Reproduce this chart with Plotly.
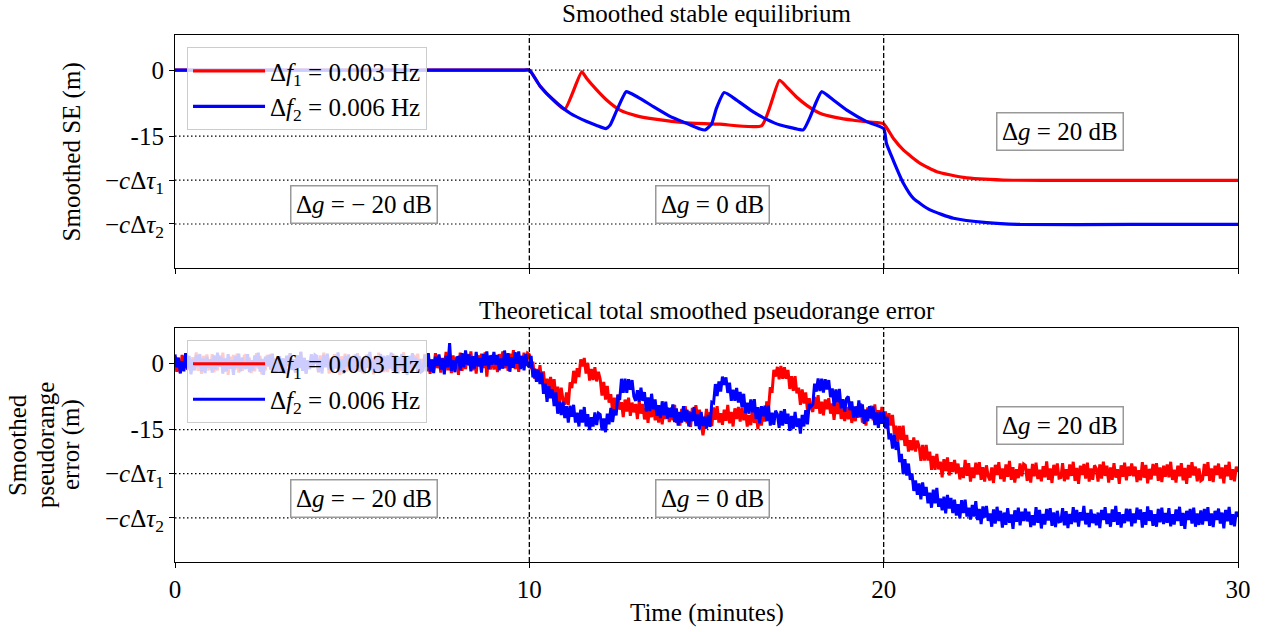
import plotly.graph_objects as go

# ---------------- data ----------------
# top panel: smoothed stable equilibrium (time in minutes, value in m)
TOP_T_RED = [0, 5, 9.8, 10, 10.3, 10.68, 11.0, 11.48, 11.62, 11.9, 12.18, 12.56, 13.03, 13.5,
             14.44, 15.38, 16.56, 17.06, 17.26, 17.54, 17.83, 18.2, 18.67, 19.15, 19.62, 20.0,
             20.27, 20.56, 21.03, 21.5, 22.25, 23.37, 26, 30]
TOP_V_RED = [0, 0, 0, 0, -3.6, -6.8, -8.9, -0.4, -1.9, -4.5, -6.8, -9.1, -10.4, -11.1,
             -12.0, -12.3, -12.6, -2.3, -3.8, -6.1, -8.0, -9.8, -10.8, -11.4, -11.8, -12.2,
             -15.5, -18.2, -21.2, -23.1, -24.4, -25.0, -25.1, -25.1]

TOP_T_BLUE = [0, 5, 9.8, 10, 10.3, 10.68, 11.15, 11.62, 11.9, 12.16, 12.28, 12.47, 12.73, 12.84,
              13.12, 13.5, 13.97, 14.44, 14.82, 14.96, 15.14, 15.28, 15.5, 15.85, 16.32, 16.7,
              17.08, 17.45, 17.73, 17.91, 18.1, 18.25, 18.58, 18.96, 19.52, 20.0, 20.08, 20.27,
              20.56, 20.84, 21.31, 21.97, 22.91, 23.85, 27, 30]
TOP_V_BLUE = [0, 0, 0, 0, -3.6, -6.8, -9.8, -11.7, -12.6, -13.3, -12.5, -9.1, -4.9, -5.2,
              -6.4, -8.3, -10.5, -12.1, -13.4, -13.6, -12.3, -8.7, -5.1, -6.8, -9.5, -11.2,
              -12.5, -13.2, -13.6, -10.9, -7.2, -4.9, -6.8, -9.1, -11.7, -13.3, -16.7, -20.5,
              -25.8, -29.2, -31.8, -33.7, -34.7, -35.1, -35.1, -35.1]

# bottom panel: noisy smoothed pseudorange error, sampled every 0.05 min (one row per minute)
SAMPLE_STEP_MIN = 0.05
BOT_RED = (
    [1.6, -1.9, 0.8, -2.3, 1.9, -0.9, 2.2, -1.5, 0.6, -2.0, 1.4, -1.1, 2.5, -1.7, 0.9, -2.4, 1.7, -0.7, 2.0, -1.3] +
    [-1.2, 2.1, -2.0, 0.7, -1.6, 1.8, -0.8, 2.4, -1.9, 1.0, -2.6, 1.5, -0.6, 1.9, -1.4, 2.2, -2.1, 0.9, -1.7, 1.6] +
    [2.0, -0.9, 1.3, -2.2, 0.5, -1.8, 2.3, -1.2, 1.7, -2.5, 0.8, -1.6, 1.9, -0.7, 2.1, -1.9, 1.1, -2.2, 1.5, -1.0] +
    [-1.8, 1.1, -2.4, 1.7, -0.6, 2.3, -1.5, 0.9, -2.1, 1.8, -1.0, 2.6, -1.7, 1.2, -2.3, 0.7, -1.3, 2.0, -0.9, 1.9] +
    [0.9, -2.1, 1.8, -1.4, 2.4, -0.8, 1.5, -2.3, 1.1, -1.7, 2.1, -1.2, 0.7, -2.6, 1.6, -1.0, 2.2, -1.8, 1.3, -0.8] +
    [-1.6, 1.9, -0.8, 2.3, -1.9, 0.9, -2.2, 1.5, -0.6, 2.0, -1.4, 1.1, -2.5, 1.7, -0.9, 2.4, -1.7, 0.7, -2.0, 1.3] +
    [-2.0, 0.9, -1.3, 2.2, -0.5, 1.8, -2.3, 1.2, -1.7, 2.5, -0.8, 1.6, -1.9, 0.7, -2.1, 1.9, -1.1, 2.2, -1.5, 1.0] +
    [-0.9, 2.1, -1.8, 1.4, -2.4, 0.8, -1.5, 2.3, -1.1, 1.7, -2.1, 1.2, -0.7, 2.6, -1.6, 1.0, -2.2, 1.8, -1.3, 0.8] +
    [-2.6, 2.4, -1.7, 1.0, -1.3, 2.1, -0.5, 2.7, -1.6, 1.3, -2.3, 1.8, -0.3, 2.2, -1.1, 2.5, -3.0, 1.2, -1.4, 1.9] +
    [-1.4, 1.5, -2.0, 2.1, -0.2, 2.7, -1.1, 1.3, -1.7, 2.2, -0.6, 3.0, -1.3, 1.6, -1.9, 1.1, -0.9, 2.4, -0.5, 2.3] +
    [2.0, -1.3, 0.4, -3.5, -1.3, -4.0, -0.4, -4.3, -1.8, -6.4, -3.5, -6.3, -3.1, -6.1, -3.6, -8.0, -5.3, -8.9, -5.5, -8.3] +
    [-9.4, -6.6, -9.4, -4.3, -5.6, -1.7, -4.5, -1.1, -3.1, 0.9, -0.7, 1.2, -2.3, 0.1, -3.9, -1.3, -3.8, -0.9, -4.1, -1.9] +
    [-3.6, -7.3, -4.2, -8.2, -5.1, -8.9, -7.0, -11.0, -7.8, -10.7, -7.1, -10.5, -8.8, -12.2, -8.2, -10.9, -7.8, -11.9, -8.9, -11.1] +
    [-9.2, -12.6, -8.6, -11.4, -9.2, -12.7, -10.2, -13.5, -9.2, -12.2, -8.7, -12.9, -10.8, -13.4, -10.1, -13.8, -9.5, -12.6, -10.0, -13.3] +
    [-10.0, -12.9, -9.4, -13.5, -11.2, -14.1, -10.3, -12.7, -9.7, -13.6, -10.8, -14.4, -10.1, -13.0, -9.5, -12.5, -10.5, -13.8, -16.3, -13.7] +
    [-10.3, -13.8, -11.1, -14.2, -10.0, -12.8, -9.7, -13.4, -11.3, -13.9, -10.5, -13.0, -9.4, -13.6, -11.0, -14.3, -10.2, -12.6, -9.9, -13.2] +
    [-10.0, -12.9, -10.8, -14.3, -11.7, -14.0, -10.0, -13.5, -10.7, -14.9, -11.6, -14.1, -10.6, -13.2, -8.6, -10.4, -5.4, -6.7, -1.5, -3.0] +
    [-0.8, -3.6, -0.6, -3.5, -0.9, -3.5, -1.5, -5.8, -2.9, -6.2, -2.9, -6.8, -5.5, -9.4, -5.9, -9.1, -6.6, -10.8, -7.9, -10.1] +
    [-11.0, -7.6, -10.3, -7.2, -11.4, -8.7, -11.8, -8.2, -10.4, -7.9, -11.4, -9.1, -12.8, -8.8, -11.5, -8.4, -12.6, -10.3, -13.1, -9.9] +
    [-12.7, -9.4, -13.5, -10.8, -13.1, -9.7, -12.3, -9.1, -13.4, -10.5, -14.1, -10.0, -12.1, -9.6, -12.9, -9.3, -13.6, -10.6, -13.2, -9.9] +
    [-13.4, -10.9, -14.9, -11.3, -14.1, -11.7, -16.0, -14.1, -17.6, -14.2, -17.4, -14.1, -18.7, -16.2, -20.0, -17.4, -19.7, -16.8, -20.0, -17.5] +
    [-18.8, -22.1, -18.5, -22.0, -18.5, -22.0, -20.0, -24.1, -21.0, -24.1, -20.5, -24.0, -22.3, -25.8, -21.7, -24.4, -21.3, -25.4, -22.4, -24.6] +
    [-21.9, -24.9, -22.7, -26.3, -23.6, -26.0, -21.9, -25.5, -22.6, -26.8, -23.6, -26.0, -22.5, -25.2, -22.4, -26.4, -23.5, -26.8, -23.1, -25.6] +
    [-26.5, -23.6, -27.1, -23.0, -25.3, -22.4, -26.2, -23.8, -26.8, -22.9, -25.7, -22.1, -26.4, -23.5, -27.0, -24.0, -26.0, -22.7, -25.6, -22.8] +
    [-23.1, -26.6, -23.9, -27.0, -22.8, -25.6, -22.5, -26.2, -24.1, -26.7, -23.3, -25.8, -22.2, -26.4, -23.8, -27.1, -23.0, -25.4, -22.7, -26.0] +
    [-25.9, -22.6, -26.7, -24.0, -26.3, -22.9, -25.5, -22.3, -26.6, -23.7, -27.3, -23.2, -25.3, -22.8, -26.1, -22.5, -26.8, -23.8, -26.4, -23.1] +
    [-23.8, -26.8, -22.9, -26.1, -22.3, -25.5, -23.2, -27.0, -23.6, -26.4, -22.6, -25.9, -24.0, -27.3, -23.1, -25.7, -22.5, -26.5, -23.4, -25.5] +
    [-22.7, -25.6, -23.4, -26.9, -24.2, -26.5, -22.4, -25.9, -23.0, -27.2, -23.9, -26.3, -22.8, -25.4, -22.6, -26.6, -23.6, -26.9, -23.2, -25.7] +
    [-22.9, -25.8, -22.3, -26.4, -24.1, -27.0, -23.2, -25.6, -22.6, -26.5, -23.7, -27.3, -23.0, -25.9, -22.4, -25.4, -23.4, -26.7, -23.8, -26.6] +
    [-26.3, -22.8, -25.5, -22.4, -26.6, -23.8, -26.9, -23.2, -25.3, -22.7, -26.1, -23.6, -27.2, -23.0, -25.6, -22.3, -26.4, -24.0, -26.7, -23.4] +
    [-24.6]
)
BOT_BLUE = (
    [2.0, -0.9, 1.3, -2.2, 0.5, -1.8, 2.3, -1.2, 1.7, -2.5, 0.8, -1.6, 1.9, -0.7, 2.1, -1.9, 1.1, -2.2, 1.5, -1.0] +
    [0.9, -2.1, 1.8, -1.4, 2.4, -0.8, 1.5, -2.3, 1.1, -1.7, 2.1, -1.2, 0.7, -2.6, 1.6, -1.0, 2.2, -1.8, 1.3, -0.8] +
    [-1.2, 2.1, -2.0, 0.7, -1.6, 1.8, -0.8, 2.4, -1.9, 1.0, -2.6, 1.5, -0.6, 1.9, -1.4, 2.2, -2.1, 0.9, -1.7, 1.6] +
    [-1.8, 1.1, -2.4, 1.7, -0.6, 2.3, -1.5, 0.9, -2.1, 1.8, -1.0, 2.6, -1.7, 1.2, -2.3, 0.7, -1.3, 2.0, -0.9, 1.9] +
    [1.6, -1.9, 0.8, -2.3, 1.9, -0.9, 2.2, -1.5, 0.6, -2.0, 1.4, -1.1, 2.5, -1.7, 0.9, -2.4, 1.7, -0.7, 2.0, -1.3] +
    [1.2, -2.1, 2.0, -0.7, 1.6, -1.8, 0.8, -2.4, 1.9, -1.0, 2.6, -1.5, 0.6, -1.9, 1.4, -2.2, 2.1, -0.9, 1.7, -1.6] +
    [1.8, -1.1, 2.4, -1.7, 0.6, -2.3, 1.5, -0.9, 2.1, -1.8, 1.0, -2.6, 1.7, -1.2, 2.3, -0.7, 1.3, -2.0, 0.9, -1.9] +
    [-1.6, 1.9, -0.8, 2.3, -1.9, 0.9, -2.2, 1.5, -0.6, 2.0, -1.4, 1.1, -2.5, 1.7, -0.9, 4.6, -1.7, 0.7, -2.0, 1.3] +
    [1.4, -1.6, 2.3, -0.9, 2.9, -0.3, 2.0, -1.8, 1.6, -1.2, 2.6, -0.7, 1.2, -2.1, 2.1, -0.5, 2.7, -1.3, 1.8, -0.3] +
    [2.6, -0.3, 1.9, -1.6, 1.1, -1.2, 2.9, -0.6, 2.3, -1.9, 1.4, -1.0, 2.5, -0.1, 2.7, -1.3, 1.7, -1.6, 2.1, -0.4] +
    [-0.9, 1.7, -3.2, -1.2, -4.2, -1.5, -4.7, -2.1, -6.9, -4.6, -8.7, -5.2, -7.9, -5.9, -9.7, -6.6, -11.4, -8.7, -11.7, -8.7] +
    [-12.4, -9.7, -13.4, -9.6, -12.1, -9.4, -13.4, -11.2, -14.3, -10.5, -13.4, -9.9, -14.3, -11.5, -15.1, -12.2, -14.3, -11.1, -14.0, -11.3] +
    [-11.6, -15.2, -12.5, -15.6, -11.4, -13.8, -10.1, -13.3, -10.4, -11.8, -7.1, -8.3, -3.5, -6.7, -3.5, -6.7, -3.6, -6.0, -3.8, -7.5] +
    [-8.5, -6.1, -8.7, -5.5, -8.5, -6.5, -10.9, -7.7, -10.8, -6.9, -10.4, -8.2, -11.9, -9.5, -12.4, -8.6, -11.8, -8.7, -12.5, -10.2] +
    [-12.2, -9.3, -13.3, -10.2, -14.1, -11.0, -13.4, -9.7, -13.2, -10.5, -14.3, -11.1, -13.1, -9.9, -14.2, -11.6, -14.9, -11.0, -14.2, -12.1] +
    [-14.8, -11.7, -14.4, -8.8, -9.0, -4.7, -7.4, -4.1, -6.4, -3.0, -4.9, -3.2, -6.7, -4.4, -8.5, -6.0, -8.5, -5.6, -8.9, -6.5] +
    [-9.9, -6.9, -11.3, -8.9, -11.4, -8.2, -11.1, -8.1, -12.6, -9.9, -13.6, -9.7, -12.0, -9.6, -13.1, -9.6, -14.1, -11.2, -13.9, -10.7] +
    [-11.5, -14.6, -10.8, -14.1, -10.4, -13.7, -11.4, -15.3, -11.9, -14.8, -11.0, -14.4, -12.5, -15.9, -11.7, -14.3, -10.6, -13.8, -9.2, -9.8] +
    [-9.3, -4.6, -6.4, -3.4, -6.3, -3.5, -6.6, -3.6, -5.9, -3.8, -7.7, -5.7, -9.7, -5.9, -8.8, -5.8, -10.2, -8.1, -11.0, -8.0] +
    [-7.5, -10.6, -8.6, -12.3, -9.8, -12.3, -8.4, -12.1, -9.3, -13.7, -10.5, -13.1, -9.7, -12.5, -9.8, -14.0, -11.1, -14.6, -11.0, -13.7] +
    [-11.0, -14.7, -12.1, -17.2, -15.9, -19.3, -16.1, -19.6, -17.7, -22.4, -20.5, -25.1, -21.7, -25.4, -22.7, -26.4, -25.0, -28.9, -26.5, -29.8] +
    [-27.2, -30.8, -27.0, -30.0, -28.0, -31.7, -29.3, -32.7, -28.6, -31.7, -28.2, -32.5, -30.6, -33.3, -30.2, -34.0, -29.8, -32.9, -30.5, -33.9] +
    [-30.9, -34.5, -31.9, -35.1, -31.0, -33.9, -30.9, -34.7, -32.7, -35.4, -32.1, -34.7, -31.2, -35.5, -33.0, -36.4, -32.4, -34.9, -32.3, -35.7] +
    [-34.0, -37.0, -33.1, -36.3, -32.5, -35.7, -33.4, -37.2, -33.8, -36.6, -32.8, -36.1, -34.2, -37.5, -33.3, -35.9, -32.7, -36.7, -33.6, -35.7] +
    [-32.9, -35.8, -33.6, -37.1, -34.4, -36.7, -32.6, -36.1, -33.2, -37.4, -34.1, -36.5, -33.0, -35.6, -32.8, -36.8, -33.8, -37.1, -33.4, -35.9] +
    [-35.8, -32.8, -36.7, -33.5, -37.3, -34.1, -36.4, -32.6, -36.0, -33.2, -37.0, -33.7, -35.6, -32.3, -36.5, -33.9, -37.1, -33.1, -36.2, -34.1] +
    [-36.7, -33.8, -37.3, -33.2, -35.5, -32.6, -36.4, -34.0, -37.0, -33.1, -35.9, -32.3, -36.6, -33.7, -37.2, -34.2, -36.2, -32.9, -35.8, -33.0] +
    [-36.9, -34.0, -36.2, -32.7, -35.4, -33.1, -37.2, -33.7, -36.6, -32.4, -35.7, -33.3, -36.8, -34.2, -37.0, -33.0, -36.0, -32.7, -36.4, -33.9] +
    [-36.1, -32.8, -36.9, -34.2, -36.5, -33.1, -35.7, -32.5, -36.8, -33.9, -37.5, -33.4, -35.5, -33.0, -36.3, -32.7, -37.0, -34.0, -36.6, -33.3] +
    [-36.5, -33.0, -35.7, -32.6, -36.8, -34.0, -37.1, -33.4, -35.5, -32.9, -36.3, -33.8, -37.4, -33.2, -35.8, -32.5, -36.6, -34.2, -36.9, -33.6] +
    [-34.8]
)
BOT_T_RED = [round(i * SAMPLE_STEP_MIN, 2) for i in range(len(BOT_RED))]
BOT_T_BLUE = [round(i * SAMPLE_STEP_MIN, 2) for i in range(len(BOT_BLUE))]

SERIES_NAMES = ["Δ<i>f</i><sub>1</sub> = 0.003 Hz", "Δ<i>f</i><sub>2</sub> = 0.006 Hz"]
SERIES_COLORS = ["#ff0000", "#0000ff"]

X_TICKS = [0, 10, 20, 30]
Y_TICKVALS = [0, -15, -25, -35]
Y_TICKTEXT = ["0", "-15", "−<i>c</i>Δ<i>τ</i><sub>1</sub>", "−<i>c</i>Δ<i>τ</i><sub>2</sub>"]
PHASE_BOUNDS = [10, 20]
REGION_LABELS = ["Δ<i>g</i> = − 20 dB", "Δ<i>g</i> = 0 dB", "Δ<i>g</i> = 20 dB"]
REGION_X = [5.33, 15.16, 24.98]
REGION_Y = [-30.6, -30.6, -14.0]

# ---------------- figure ----------------
FONT = "Liberation Serif"
FS = 25

fig = go.Figure()

fig.add_trace(go.Scatter(x=TOP_T_RED, y=TOP_V_RED, mode="lines", name=SERIES_NAMES[0],
                         line=dict(color=SERIES_COLORS[0], width=3.2, shape="spline", smoothing=0.5),
                         xaxis="x", yaxis="y", legend="legend"))
fig.add_trace(go.Scatter(x=TOP_T_BLUE, y=TOP_V_BLUE, mode="lines", name=SERIES_NAMES[1],
                         line=dict(color=SERIES_COLORS[1], width=3.2, shape="spline", smoothing=0.5),
                         xaxis="x", yaxis="y", legend="legend"))
fig.add_trace(go.Scatter(x=BOT_T_RED, y=BOT_RED, mode="lines", name=SERIES_NAMES[0],
                         line=dict(color=SERIES_COLORS[0], width=3), xaxis="x2", yaxis="y2",
                         legend="legend2"))
fig.add_trace(go.Scatter(x=BOT_T_BLUE, y=BOT_BLUE, mode="lines", name=SERIES_NAMES[1],
                         line=dict(color=SERIES_COLORS[1], width=3), xaxis="x2", yaxis="y2",
                         legend="legend2"))

shapes = []
for xr, yr in (("x", "y"), ("x2", "y2")):
    for yv, x0, x1 in ((0, 0, 20), (-15, 0, 20), (-25, 0, 30), (-35, 0, 30)):
        shapes.append(dict(type="line", xref=xr, yref=yr, x0=x0, x1=x1, y0=yv, y1=yv,
                           layer="below", line=dict(color="black", width=1.2, dash="1.5px,2.5px")))
    for xb in PHASE_BOUNDS:
        shapes.append(dict(type="line", xref=xr, yref=yr + " domain", x0=xb, x1=xb, y0=0, y1=1,
                           layer="above", line=dict(color="black", width=1.3, dash="5px,2.5px")))

annotations = []
for xr, yr in (("x", "y"), ("x2", "y2")):
    for txt, xv, yv in zip(REGION_LABELS, REGION_X, REGION_Y):
        annotations.append(dict(text=txt, x=xv, y=yv, xref=xr, yref=yr, showarrow=False,
                                font=dict(family=FONT, size=FS, color="black"),
                                bgcolor="white", bordercolor="#999999", borderwidth=1.5,
                                borderpad=4.5, xanchor="center", yanchor="middle"))

annotations.append(dict(text="Smoothed stable equilibrium", x=0.5, y=1.0, xref="paper",
                        yref="y domain", yshift=22, showarrow=False, xanchor="center",
                        yanchor="middle", font=dict(family=FONT, size=FS, color="black")))
annotations.append(dict(text="Theoretical total smoothed pseudorange error", x=0.5, y=1.0,
                        xref="paper", yref="y2 domain", yshift=18, showarrow=False,
                        xanchor="center", yanchor="middle",
                        font=dict(family=FONT, size=FS, color="black")))
annotations.append(dict(text="Time (minutes)", x=0.5, y=0.0, xref="paper", yref="y2 domain",
                        yshift=-51, showarrow=False, xanchor="center", yanchor="middle",
                        font=dict(family=FONT, size=FS, color="black")))
annotations.append(dict(text="Smoothed SE (m)", x=-0.0969, y=0.5, xref="paper",
                        yref="y domain", textangle=-90, showarrow=False, xanchor="center",
                        yanchor="middle", font=dict(family=FONT, size=FS, color="black")))
for line_txt, xp in (("Smoothed", -0.1486), ("pseudorange", -0.1223), ("error (m)", -0.0978)):
    annotations.append(dict(text=line_txt, x=xp, y=0.5, xref="paper", yref="y2 domain",
                            textangle=-90, showarrow=False, xanchor="center", yanchor="middle",
                            font=dict(family=FONT, size=FS, color="black")))

axis_common = dict(showgrid=False, zeroline=False, showline=True, linecolor="black",
                   linewidth=1.1, mirror=True, ticks="outside", ticklen=5, tickwidth=1.1,
                   tickcolor="black", automargin=False,
                   tickfont=dict(family=FONT, size=FS, color="black"))

legend_common = dict(xanchor="left", yanchor="top", bgcolor="rgba(255,255,255,0.8)",
                     bordercolor="#cccccc", borderwidth=1, itemwidth=72,
                     font=dict(family=FONT, size=FS, color="black"), tracegroupgap=0)

fig.update_layout(
    width=1266, height=632,
    margin=dict(l=175, r=28, t=35, b=70, autoexpand=False),
    paper_bgcolor="white", plot_bgcolor="white",
    font=dict(family=FONT, size=FS, color="black"),
    xaxis=dict(domain=[0, 1], anchor="y", range=[0, 30], tickvals=X_TICKS,
               showticklabels=False, matches="x2", **axis_common),
    yaxis=dict(domain=[0.558, 1], anchor="x", range=[-45, 8], tickvals=Y_TICKVALS,
               ticktext=Y_TICKTEXT, **axis_common),
    xaxis2=dict(domain=[0, 1], anchor="y2", range=[0, 30], tickvals=X_TICKS,
                ticktext=[str(v) for v in X_TICKS], **axis_common),
    yaxis2=dict(domain=[0, 0.444], anchor="x2", range=[-45, 8], tickvals=Y_TICKVALS,
                ticktext=Y_TICKTEXT, **axis_common),
    shapes=shapes,
    annotations=annotations,
    legend=dict(x=0.0113, y=0.977, **legend_common),
    legend2=dict(x=0.0113, y=0.4213, **legend_common),
)

fig.write_html("out.html", config={"displayModeBar": False},
               post_script="document.body.style.margin='0px';")
